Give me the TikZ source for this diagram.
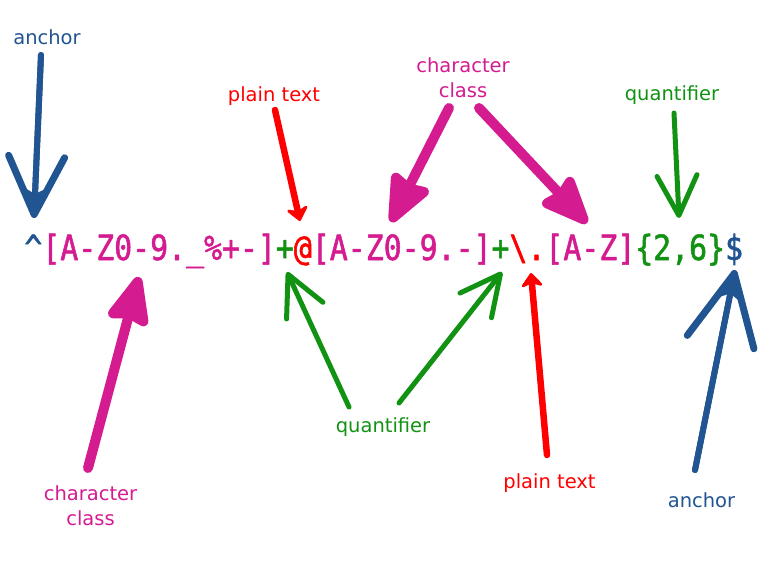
\documentclass[tikz,border=0pt]{standalone}
\usepackage{fontspec}
\usetikzlibrary{arrows.meta}
\newfontfamily\labelfont{DejaVu Sans}
\newfontfamily\regexfont[FakeStretch=0.86, FakeBold=1.5]{DejaVu Sans Mono}
\definecolor{anchorblue}{HTML}{215591}
\definecolor{classpink}{HTML}{D41C90}
\definecolor{plainred}{HTML}{FF0000}
\definecolor{quantgreen}{HTML}{129212}
\begin{document}
\begin{tikzpicture}[x=1pt, y=-1pt, line join=round, line cap=round,
		lbl/.style={inner sep=0pt, anchor=base, align=center, font=\labelfont\fontsize{19.5}{25}\selectfont},
		anchorarrow/.style={draw=anchorblue, line width=6pt, -{Straight Barb[round, line width=7pt, #1]},
			postaction={draw, -{Stealth[length=30pt, width=24pt, inset=6pt]}}},
		classarrow/.style={draw=classpink, line width=10pt, -{Stealth[round, length=56pt, width=46pt, inset=5pt]}},
		quantarrow/.style={draw=quantgreen, line width=5pt, -{Straight Barb[round, length=40pt, width=40pt]}},
		plainarrow/.style={draw=plainred, line width=6.5pt, -{Stealth[round, length=16pt, width=26pt, inset=5pt]}}]
		\useasboundingbox (0,0) rectangle (768,576);
		% the expression
		\node[inner sep=0pt, anchor=base west, font=\regexfont\fontsize{34.7}{40}\selectfont] (regex) at (24.2,260)
		{\textcolor{anchorblue}{\textasciicircum}\textcolor{classpink}{[A-Z0-9.\_\%+-]}\textcolor{quantgreen}{+}\textcolor{plainred}{@}\textcolor{classpink}{[A-Z0-9.-]}\textcolor{quantgreen}{+}\textcolor{plainred}{\textbackslash.}\textcolor{classpink}{[A-Z]}\textcolor{quantgreen}{\{2,6\}}\textcolor{anchorblue}{\$}};
		% labels above
		\node[lbl, text=anchorblue] (anchorTop) at (47,44) {anchor};
		\node[lbl, text=plainred] (plainTop) at (274,101) {plain text};
		\node[lbl, text=classpink] (classTop) at (463,97) {character\\class};
		\node[lbl, text=quantgreen] (quantTop) at (672,100) {quantifier};
		% labels below
		\node[lbl, text=classpink] (classBot) at (90.5,525) {character\\class};
		\node[lbl, text=quantgreen] (quantBot) at (383,432) {quantifier};
		\node[lbl, text=plainred] (plainBot) at (549.5,488) {plain text};
		\node[lbl, text=anchorblue] (anchorBot) at (701.5,507) {anchor};
		% arrow ends
		\coordinate (anchorTailA) at (41,55);   \coordinate (anchorTipA) at (34,218);
		\coordinate (plainTailA) at (275,110);  \coordinate (plainTipA) at (300,221);
		\coordinate (classTailA) at (449,108);  \coordinate (classTipA) at (391,222);
		\coordinate (classTailB) at (479,108);  \coordinate (classTipB) at (587,223);
		\coordinate (quantTailA) at (674,113);  \coordinate (quantTipA) at (679,218);
		\coordinate (classTailC) at (88,468);   \coordinate (classTipC) at (139,277);
		\coordinate (quantTailB) at (349,407);  \coordinate (quantTipB) at (287,272);
		\coordinate (quantTailC) at (399,403);  \coordinate (quantTipC) at (502,272);
		\coordinate (plainTailB) at (547,455);  \coordinate (plainTipB) at (531,273);
		\coordinate (anchorTailB) at (695,470); \coordinate (anchorTipB) at (735,270);
		% arrows
		\draw[anchorarrow={length=58pt, width=56pt}] (anchorTailA) -- (anchorTipA);
		\draw[plainarrow] (plainTailA) -- (plainTipA);
		\draw[classarrow] (classTailA) -- (classTipA);
		\draw[classarrow] (classTailB) -- (classTipB);
		\draw[quantarrow] (quantTailA) -- (quantTipA);
		\draw[classarrow] (classTailC) -- (classTipC);
		\draw[quantarrow] (quantTailB) -- (quantTipB);
		\draw[quantarrow] (quantTailC) -- (quantTipC);
		\draw[plainarrow] (plainTailB) -- (plainTipB);
		\draw[anchorarrow={length=70pt, width=68pt}] (anchorTailB) -- (anchorTipB);
	\end{tikzpicture}
\end{document}
